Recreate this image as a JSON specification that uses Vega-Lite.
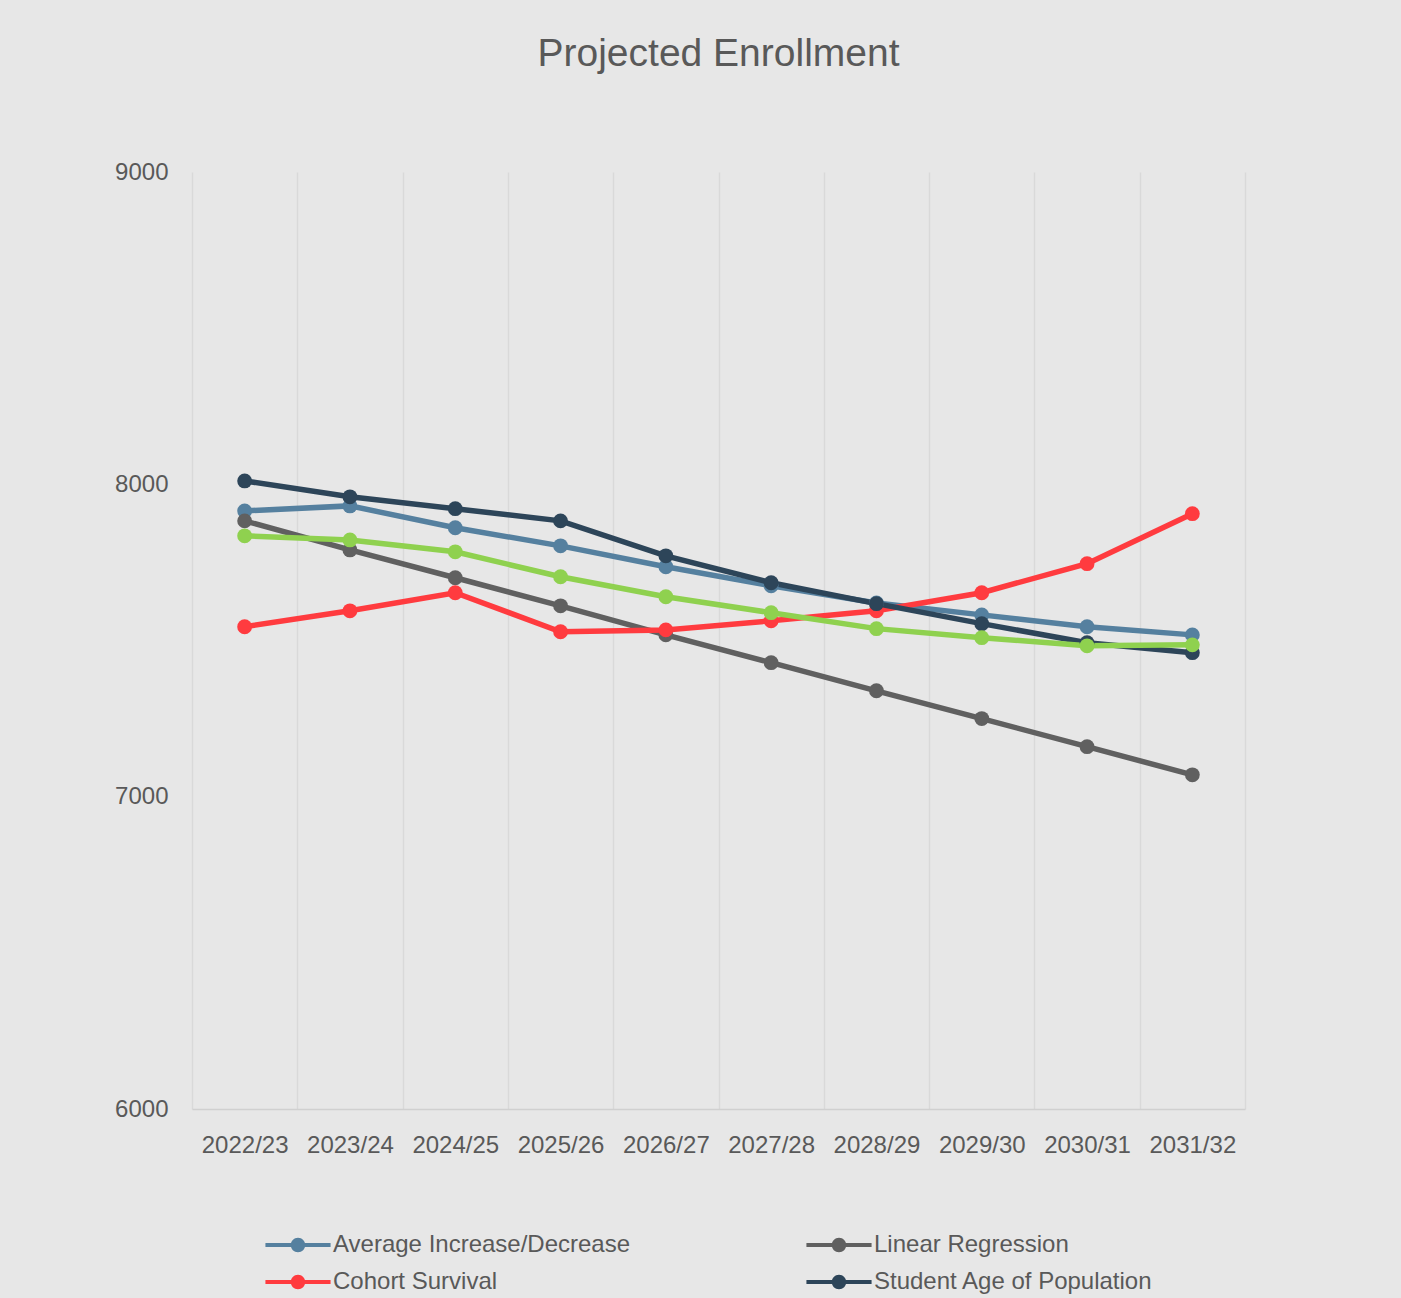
{
  "$schema": "https://vega.github.io/schema/vega-lite/v6.json",
  "autosize": {"type": "none"},
  "width": 1053,
  "height": 937,
  "padding": {"left": 192, "top": 172, "right": 156, "bottom": 189},
  "background": "#e7e7e7",
  "title": {"text": "Projected Enrollment", "fontSize": 39, "font": "Liberation Sans", "fontWeight": "normal", "color": "#595959", "offset": 86, "anchor": "middle"},
  "config": {"view": {"stroke": null}, "font": "Liberation Sans"},
  "data": {"values": [
    {"year": "2022/23", "series": "Average Increase/Decrease", "value": 7915},
    {"year": "2023/24", "series": "Average Increase/Decrease", "value": 7931},
    {"year": "2024/25", "series": "Average Increase/Decrease", "value": 7861},
    {"year": "2025/26", "series": "Average Increase/Decrease", "value": 7803},
    {"year": "2026/27", "series": "Average Increase/Decrease", "value": 7736},
    {"year": "2027/28", "series": "Average Increase/Decrease", "value": 7675},
    {"year": "2028/29", "series": "Average Increase/Decrease", "value": 7620},
    {"year": "2029/30", "series": "Average Increase/Decrease", "value": 7582},
    {"year": "2030/31", "series": "Average Increase/Decrease", "value": 7544},
    {"year": "2031/32", "series": "Average Increase/Decrease", "value": 7518},
    {"year": "2022/23", "series": "Linear Regression", "value": 7883},
    {"year": "2023/24", "series": "Linear Regression", "value": 7790},
    {"year": "2024/25", "series": "Linear Regression", "value": 7701},
    {"year": "2025/26", "series": "Linear Regression", "value": 7611},
    {"year": "2026/27", "series": "Linear Regression", "value": 7518},
    {"year": "2027/28", "series": "Linear Regression", "value": 7429},
    {"year": "2028/29", "series": "Linear Regression", "value": 7339},
    {"year": "2029/30", "series": "Linear Regression", "value": 7250},
    {"year": "2030/31", "series": "Linear Regression", "value": 7160},
    {"year": "2031/32", "series": "Linear Regression", "value": 7070},
    {"year": "2022/23", "series": "Cohort Survival", "value": 7544},
    {"year": "2023/24", "series": "Cohort Survival", "value": 7595},
    {"year": "2024/25", "series": "Cohort Survival", "value": 7653},
    {"year": "2025/26", "series": "Cohort Survival", "value": 7528},
    {"year": "2026/27", "series": "Cohort Survival", "value": 7534},
    {"year": "2027/28", "series": "Cohort Survival", "value": 7563},
    {"year": "2028/29", "series": "Cohort Survival", "value": 7595},
    {"year": "2029/30", "series": "Cohort Survival", "value": 7653},
    {"year": "2030/31", "series": "Cohort Survival", "value": 7746},
    {"year": "2031/32", "series": "Cohort Survival", "value": 7906},
    {"year": "2022/23", "series": "Student Age of Population", "value": 8011},
    {"year": "2023/24", "series": "Student Age of Population", "value": 7960},
    {"year": "2024/25", "series": "Student Age of Population", "value": 7922},
    {"year": "2025/26", "series": "Student Age of Population", "value": 7883},
    {"year": "2026/27", "series": "Student Age of Population", "value": 7771},
    {"year": "2027/28", "series": "Student Age of Population", "value": 7685},
    {"year": "2028/29", "series": "Student Age of Population", "value": 7618},
    {"year": "2029/30", "series": "Student Age of Population", "value": 7554},
    {"year": "2030/31", "series": "Student Age of Population", "value": 7493},
    {"year": "2031/32", "series": "Student Age of Population", "value": 7461},
    {"year": "2022/23", "series": "Average of All Methods", "value": 7835},
    {"year": "2023/24", "series": "Average of All Methods", "value": 7822},
    {"year": "2024/25", "series": "Average of All Methods", "value": 7784},
    {"year": "2025/26", "series": "Average of All Methods", "value": 7704},
    {"year": "2026/27", "series": "Average of All Methods", "value": 7640},
    {"year": "2027/28", "series": "Average of All Methods", "value": 7589},
    {"year": "2028/29", "series": "Average of All Methods", "value": 7538},
    {"year": "2029/30", "series": "Average of All Methods", "value": 7509},
    {"year": "2030/31", "series": "Average of All Methods", "value": 7483},
    {"year": "2031/32", "series": "Average of All Methods", "value": 7486}
  ]},
  "mark": {"type": "line", "strokeWidth": 5.5, "point": {"filled": true, "size": 220, "opacity": 1}},
  "encoding": {
    "x": {
      "field": "year", "type": "ordinal",
      "scale": {"type": "band", "paddingInner": 0, "paddingOuter": 0},
      "axis": {"title": null, "tickBand": "extent", "grid": true, "gridColor": "#d9d9d9", "gridWidth": 1.5, "ticks": false, "domainColor": "#d0d0d0", "domainWidth": 1.5, "labelFontSize": 24, "labelColor": "#595959", "labelPadding": 24, "labelAngle": 0}
    },
    "y": {
      "field": "value", "type": "quantitative",
      "scale": {"domain": [6000, 9000]},
      "axis": {"title": null, "values": [6000, 7000, 8000, 9000], "format": "d", "grid": false, "domain": false, "ticks": false, "labelFontSize": 24, "labelColor": "#595959", "labelPadding": 24}
    },
    "color": {
      "field": "series", "type": "nominal",
      "scale": {
        "domain": ["Average Increase/Decrease", "Linear Regression", "Cohort Survival", "Student Age of Population", "Average of All Methods"],
        "range": ["#55809f", "#606060", "#ff3b3f", "#2d4559", "#8fd14f"]
      },
      "legend": {
        "orient": "none", "legendX": 90, "legendY": 1057,
        "columns": 2, "direction": "horizontal", "title": null,
        "labelFontSize": 24, "labelColor": "#595959", "labelLimit": 0,
        "symbolType": "M -2.06 -0.12 L 2.06 -0.12 L 2.06 0.12 L -2.06 0.12 Z M 0.46 0 A 0.46 0.46 0 1 1 -0.46 0 A 0.46 0.46 0 1 1 0.46 0 Z",
        "symbolSize": 1000, "symbolStrokeWidth": 0,
        "columnPadding": 175, "rowPadding": 9, "labelOffset": 19,
        "encode": {"symbols": {"update": {"fill": {"scale": "color", "field": "value"}, "fillOpacity": {"value": 1}, "opacity": {"value": 1}}}}
      }
    }
  }
}
